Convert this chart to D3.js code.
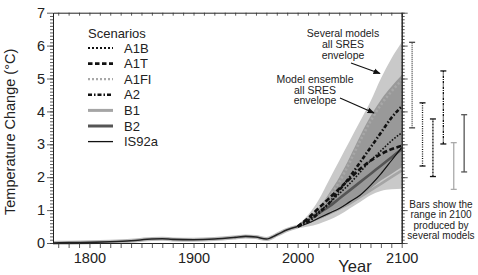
<!DOCTYPE html>
<html>
<head>
<meta charset="utf-8">
<script src="https://cdn.jsdelivr.net/npm/d3@7/dist/d3.min.js"></script>
<style>
  body { margin: 0; background: #fff; }
  svg { font-family: "Liberation Sans", Arial, sans-serif; }
</style>
</head>
<body>
<div id="chart"></div>
<script>
// ---- data ----
const histYears = [1765, 1780, 1800, 1820, 1840, 1860, 1870, 1880, 1900, 1920, 1940, 1950, 1960, 1970, 1980, 1990, 2000];
const histTemp  = [0, 0.01, 0.02, 0.04, 0.07, 0.12, 0.13, 0.11, 0.1, 0.12, 0.17, 0.2, 0.18, 0.12, 0.25, 0.4, 0.5];

const scenYears = [2000, 2010, 2020, 2030, 2040, 2050, 2060, 2070, 2080, 2090, 2100];
const outerUpper = [0.55, 0.85, 1.3, 1.9, 2.5, 3.1, 3.7, 4.3, 5.0, 5.6, 6.1];
const outerLower = [0.45, 0.5, 0.58, 0.7, 0.85, 1.05, 1.25, 1.45, 1.58, 1.63, 1.65];
const innerUpper = [0.5, 0.75, 1.05, 1.5, 2.0, 2.6, 3.25, 3.85, 4.35, 4.75, 5.1];
const innerLower = [0.45, 0.6, 0.72, 0.85, 1.0, 1.2, 1.4, 1.65, 1.9, 2.1, 2.3];

const A1B   = [0.5, 0.7, 0.95, 1.2, 1.5, 1.8, 2.15, 2.5, 2.8, 3.1, 3.35];
const A1T   = [0.5, 0.75, 1.05, 1.35, 1.65, 1.95, 2.25, 2.5, 2.7, 2.85, 2.95];
const A1FI  = [0.5, 0.7, 1.0, 1.4, 1.85, 2.45, 3.1, 3.7, 4.2, 4.6, 4.95];
const A2    = [0.5, 0.65, 0.9, 1.2, 1.6, 2.0, 2.45, 2.9, 3.35, 3.8, 4.15];
const B1    = [0.5, 0.62, 0.75, 0.9, 1.05, 1.2, 1.4, 1.6, 1.8, 2.0, 2.2];
const B2    = [0.5, 0.7, 0.9, 1.1, 1.35, 1.6, 1.85, 2.1, 2.35, 2.6, 2.85];
const IS92a = [0.5, 0.6, 0.75, 0.9, 1.05, 1.25, 1.45, 1.75, 2.1, 2.5, 2.9];

// range bars for 2100 (placed after the axis, one per decade slot)
const barSlots = [2110, 2120, 2130, 2140, 2150, 2160];
const barLow   = [3.5, 2.34, 2.02, 3.01, 1.63, 2.16];
const barHigh  = [6.1, 4.26, 3.77, 5.23, 3.05, 3.9];

const legendNames = ["A1B", "A1T", "A1FI", "A2", "B1", "B2", "IS92a"];

// ---- styles ----
const styles = {
    A1B:   { stroke: "#111", width: 1.6, dash: "1.6,1.6", legendWidth: 2.2, legendDash: "2,2" },
    A1T:   { stroke: "#111", width: 2.6, dash: "5,2.5", legendWidth: 2.6, legendDash: "4.5,2.5" },
    A1FI:  { stroke: "#a8a8a8", width: 2.6, dash: "2.2,2.2", legendWidth: 2.2, legendDash: "2,2" },
    A2:    { stroke: "#111", width: 2.6, dash: "4,2,1.5,2", legendWidth: 2.6, legendDash: "4,2,1.5,2" },
    B1:    { stroke: "#a5a5a5", width: 2.6, dash: null, legendWidth: 3, legendDash: null },
    B2:    { stroke: "#555", width: 2.6, dash: null, legendWidth: 3, legendDash: null },
    IS92a: { stroke: "#111", width: 1.2, dash: null, legendWidth: 1.3, legendDash: null }
};
const seriesValues = { A1B, A1T, A1FI, A2, B1, B2, IS92a };

const barStyles = [
    { stroke: "#444", dash: "1,1" },
    { stroke: "#111", dash: "1,1.3" },
    { stroke: "#111", dash: "2,1" },
    { stroke: "#111", dash: "2.5,1,1,1" },
    { stroke: "#aaa", dash: null },
    { stroke: "#555", dash: null }
];

// ---- setup ----
const width = 478, height = 275;
const svg = d3.select("#chart").append("svg")
    .attr("width", width)
    .attr("height", height);

const x = d3.scaleLinear().domain([1765, 2100]).range([53, 401.7]);
const y = d3.scaleLinear().domain([0, 7]).range([243, 12.7]);

// ---- envelopes ----
const area = d3.area()
    .x((d, i) => x(scenYears[i]))
    .curve(d3.curveMonotoneX);

svg.append("path")
    .attr("d", area.y0((d, i) => y(outerLower[i])).y1(d => y(d))(outerUpper))
    .attr("fill", "#c9c9c9");

svg.append("path")
    .attr("d", area.y0((d, i) => y(innerLower[i])).y1(d => y(d))(innerUpper))
    .attr("fill", "#999");

// ---- historical line ----
const histLine = d3.line()
    .x((d, i) => x(histYears[i]))
    .y(d => y(d))
    .curve(d3.curveMonotoneX);

svg.append("path")
    .attr("d", histLine(histTemp))
    .attr("fill", "none")
    .attr("stroke", "#bbb")
    .attr("stroke-width", 4);

svg.append("path")
    .attr("d", histLine(histTemp))
    .attr("fill", "none")
    .attr("stroke", "#222")
    .attr("stroke-width", 1.6);

// ---- scenario lines ----
const scenLine = d3.line()
    .x((d, i) => x(scenYears[i]))
    .y(d => y(d))
    .curve(d3.curveMonotoneX);

["B1", "B2", "IS92a", "A1FI", "A1B", "A1T", "A2"].forEach(name => {
    const s = styles[name];
    svg.append("path")
        .attr("d", scenLine(seriesValues[name]))
        .attr("fill", "none")
        .attr("stroke", s.stroke)
        .attr("stroke-width", s.width)
        .attr("stroke-dasharray", s.dash);
});

// ---- axes ----
const axisG = svg.append("g").attr("font-family", "Liberation Sans, Arial, sans-serif");

// bottom
const bottom = axisG.append("g")
    .attr("transform", `translate(0,${y(0)})`)
    .call(d3.axisBottom(x)
        .tickValues(d3.range(1770, 2101, 10))
        .tickSize(5)
        .tickSizeOuter(0)
        .tickFormat(d => d % 100 === 0 ? d : ""));
bottom.selectAll("text").attr("font-size", 14.5).attr("fill", "#222").attr("dy", "0.75em").attr("y", 9);

// top
axisG.append("g")
    .attr("transform", `translate(0,${y(7)})`)
    .call(d3.axisBottom(x)
        .tickValues(d3.range(1770, 2101, 10))
        .tickSize(3)
        .tickSizeOuter(0)
        .tickFormat(""));

// left minor + major
axisG.append("g")
    .attr("transform", `translate(${x(1765)},0)`)
    .call(d3.axisLeft(y)
        .tickValues(d3.range(0, 70).map(d => d / 10))
        .tickSize(3)
        .tickSizeOuter(0)
        .tickFormat(""));

const left = axisG.append("g")
    .attr("transform", `translate(${x(1765)},0)`)
    .call(d3.axisLeft(y)
        .tickValues(d3.range(0, 8))
        .tickSize(6)
        .tickSizeOuter(0)
        .tickPadding(2)
        .tickFormat(d3.format("d")));
left.selectAll("text").attr("font-size", 14.5).attr("fill", "#222");

// right minor + major
axisG.append("g")
    .attr("transform", `translate(${x(2100)},0)`)
    .call(d3.axisRight(y)
        .tickValues(d3.range(0, 71).map(d => d / 10))
        .tickSize(3)
        .tickSizeOuter(0)
        .tickFormat(""));

axisG.append("g")
    .attr("transform", `translate(${x(2100)},0)`)
    .call(d3.axisRight(y)
        .tickValues(d3.range(0, 8))
        .tickSize(6)
        .tickSizeOuter(0)
        .tickFormat(""));

axisG.selectAll("path.domain").attr("stroke", "#222");
axisG.selectAll(".tick line").attr("stroke", "#333").attr("stroke-width", 0.8);

// axis titles
svg.append("text")
    .attr("transform", `translate(15,${(y(0) + y(7)) / 2 + 4}) rotate(-90)`)
    .attr("text-anchor", "middle")
    .attr("font-size", 14.5)
    .attr("fill", "#222")
    .text("Temperature Change (°C)");

svg.append("text")
    .attr("x", 355)
    .attr("y", 272)
    .attr("text-anchor", "middle")
    .attr("font-size", 16.5)
    .attr("fill", "#222")
    .text("Year");

// ---- legend ----
const legend = svg.append("g");
legend.append("text")
    .attr("x", 88)
    .attr("y", 38)
    .attr("font-size", 13)
    .attr("fill", "#222")
    .text("Scenarios");

legendNames.forEach((name, i) => {
    const s = styles[name];
    const cy = 48 + i * 15.6;
    legend.append("line")
        .attr("x1", 88).attr("x2", 113)
        .attr("y1", cy).attr("y2", cy)
        .attr("stroke", s.stroke)
        .attr("stroke-width", s.legendWidth)
        .attr("stroke-dasharray", s.legendDash);
    legend.append("text")
        .attr("x", 124)
        .attr("y", cy + 4.5)
        .attr("font-size", 13)
        .attr("fill", "#222")
        .text(name);
});

// ---- annotations ----
svg.append("defs").append("marker")
    .attr("id", "arrow")
    .attr("viewBox", "0 0 10 10")
    .attr("refX", 9).attr("refY", 5)
    .attr("markerWidth", 6).attr("markerHeight", 6)
    .attr("orient", "auto")
    .append("path")
    .attr("d", "M0,1 L10,5 L0,9 Z")
    .attr("fill", "#111");

function noteLines(lines, cx, y0, dy, size) {
    const t = svg.append("text")
        .attr("text-anchor", "middle")
        .attr("font-size", size)
        .attr("fill", "#222");
    lines.forEach((l, i) => {
        t.append("tspan").attr("x", cx).attr("y", y0 + i * dy).text(l);
    });
}

noteLines(["Several models", "all SRES", "envelope"], 343, 37, 11, 10.5);
noteLines(["Model ensemble", "all SRES", "envelope"], 315, 83, 10.5, 10.5);
noteLines(["Bars show the", "range in 2100", "produced by", "several models"], 441, 208, 10.3, 10);

svg.append("line")
    .attr("x1", 351).attr("y1", 63)
    .attr("x2", 380).attr("y2", 73.5)
    .attr("stroke", "#111").attr("stroke-width", 1.2)
    .attr("marker-end", "url(#arrow)");

svg.append("line")
    .attr("x1", 340).attr("y1", 98)
    .attr("x2", 374).attr("y2", 113)
    .attr("stroke", "#111").attr("stroke-width", 1.2)
    .attr("marker-end", "url(#arrow)");

// ---- range bars ----
const bars = svg.append("g");
barSlots.forEach((slot, i) => {
    const bs = barStyles[i];
    const bx = x(slot);
    bars.append("line")
        .attr("x1", bx).attr("x2", bx)
        .attr("y1", y(barLow[i])).attr("y2", y(barHigh[i]))
        .attr("stroke", bs.stroke)
        .attr("stroke-width", 1.3)
        .attr("stroke-dasharray", bs.dash);
    [barLow[i], barHigh[i]].forEach(v => {
        bars.append("line")
            .attr("x1", bx - 3).attr("x2", bx + 3)
            .attr("y1", y(v)).attr("y2", y(v))
            .attr("stroke", bs.stroke)
            .attr("stroke-width", 1.3);
    });
});
</script>
</body>
</html>
